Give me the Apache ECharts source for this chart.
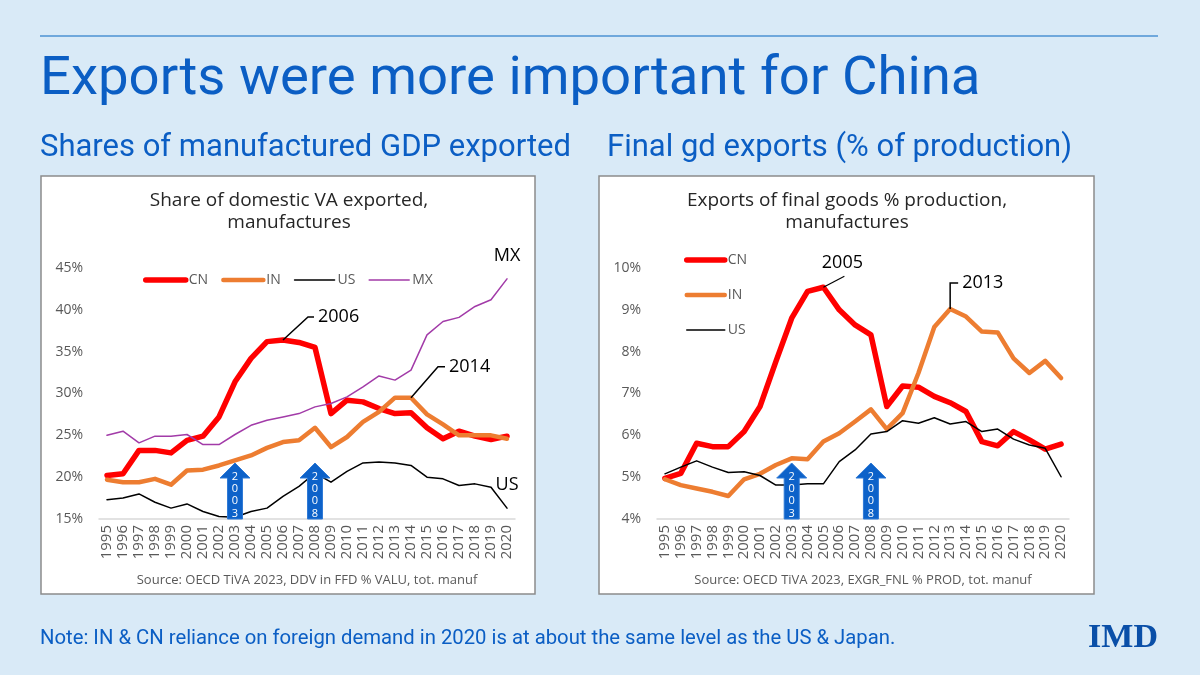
<!DOCTYPE html>
<html><head><meta charset="utf-8">
<script src="https://cdn.jsdelivr.net/npm/echarts@6/dist/echarts.min.js"></script>
<style>html,body{margin:0;padding:0;background:#d9eaf7;}#c{width:1200px;height:675px;}</style>
</head><body><div id="c"></div>
<script>
const years = ['1995','1996','1997','1998','1999','2000','2001','2002','2003','2004','2005','2006','2007','2008','2009','2010','2011','2012','2013','2014','2015','2016','2017','2018','2019','2020'];
// Left chart: share of domestic VA exported, manufactures (%)
const vaCN = [20.2,20.4,23.2,23.2,22.9,24.4,24.9,27.2,31.4,34.2,36.2,36.4,36.1,35.5,27.6,29.2,29.0,28.2,27.6,27.7,25.9,24.6,25.5,24.9,24.5,24.9];
const vaIN = [19.7,19.4,19.4,19.8,19.1,20.8,20.9,21.4,22.0,22.6,23.5,24.2,24.4,25.9,23.6,24.8,26.6,27.8,29.5,29.5,27.5,26.3,25.0,25.0,25.0,24.6];
const vaUS = [17.3,17.5,18.0,17.0,16.3,16.8,15.9,15.3,15.2,15.9,16.3,17.7,18.9,20.5,19.4,20.7,21.7,21.8,21.7,21.4,20.0,19.8,19.0,19.2,18.8,16.3];
const vaMX = [25.0,25.5,24.1,24.9,24.9,25.1,23.9,23.9,25.1,26.2,26.8,27.2,27.6,28.4,28.8,29.6,30.8,32.1,31.6,32.8,37.0,38.6,39.1,40.4,41.2,43.7];
// Right chart: exports of final goods % production, manufactures (%)
const fgCN = [4.97,5.09,5.81,5.73,5.73,6.09,6.69,7.76,8.80,9.44,9.54,9.00,8.64,8.40,6.69,7.18,7.15,6.93,6.78,6.57,5.85,5.75,6.09,5.89,5.67,5.79];
const fgIN = [4.95,4.81,4.73,4.65,4.55,4.95,5.08,5.29,5.45,5.43,5.85,6.05,6.33,6.62,6.15,6.53,7.49,8.59,9.02,8.84,8.48,8.46,7.84,7.49,7.78,7.37];
const fgUS = [5.08,5.24,5.39,5.24,5.11,5.13,5.04,4.81,4.81,4.84,4.84,5.37,5.65,6.03,6.09,6.35,6.29,6.42,6.27,6.33,6.09,6.15,5.91,5.77,5.69,5.01];
// Axis ranges
const leftAxis = {min: 15, max: 45, interval: 5};
const rightAxis = {min: 4, max: 10, interval: 1};
// Event arrows
const arrowYears = ['2003','2008'];
// Text
const mainTitle = 'Exports were more important for China';
const subLeft = 'Shares of manufactured GDP exported';
const subRight = 'Final gd exports (% of production)';
const chartTitleLeft = 'Share of domestic VA exported,\nmanufactures';
const chartTitleRight = 'Exports of final goods % production,\nmanufactures';
const sourceLeft = 'Source: OECD TiVA 2023, DDV in FFD % VALU, tot. manuf';
const sourceRight = 'Source: OECD TiVA 2023, EXGR_FNL % PROD, tot. manuf';
const noteText = 'Note: IN & CN reliance on foreign demand in 2020 is at about the same level as the US & Japan.';

const BLUE = '#0b5ec4';
const RED = '#ff0000', ORANGE = '#ed7d31', BLACK = '#000000', PURPLE = '#a23ba8';
const CF = '"Open Sans", "Noto Sans", sans-serif';
const SF = 'Roboto, "Noto Sans", sans-serif';
const widths = {CN:5.5, IN:4.5, US:1.5, MX:1.5};

const chart = echarts.init(document.getElementById('c'), null, {renderer: 'canvas'});

function xAx(gi){
  return {type:'category', gridIndex:gi, data:years, boundaryGap:true,
    axisLine:{show:true, lineStyle:{color:'#d9d9d9', width:1.5}}, axisTick:{show:false},
    axisLabel:{rotate:90, interval:0, fontSize:15, color:'#595959', fontFamily:CF, margin:6}};
}
function yAx(gi, r){
  return {type:'value', gridIndex:gi, min:r.min, max:r.max, interval:r.interval,
    axisLine:{show:false}, axisTick:{show:false}, splitLine:{show:false},
    axisLabel:{formatter:'{value}%', fontSize:14, color:'#595959', fontFamily:CF, margin:16}};
}
function line(name, data, color, gi){
  return {type:'line', name, data, xAxisIndex:gi, yAxisIndex:gi, symbol:'none', showSymbol:false,
    lineStyle:{color, width:widths[name], cap:'round', join:'round'}, itemStyle:{color}, silent:true, animation:false, z:2};
}
function arrows(gi, ymin){
  return {type:'custom', xAxisIndex:gi, yAxisIndex:gi, coordinateSystem:'cartesian2d', z:5, animation:false, silent:true, clip:false,
    data: arrowYears.map(y => [y, ymin]),
    renderItem: function(params, api){
      const p = api.coord([api.value(0), api.value(1)]);
      const x = p[0], b = p[1];
      const hw = 7.5, hh = 15, tot = 56, headW = 15;
      const pts = [[x-hw,b],[x-hw,b-tot+hh],[x-headW,b-tot+hh],[x,b-tot],[x+headW,b-tot+hh],[x+hw,b-tot+hh],[x+hw,b]];
      const label = arrowYears[params.dataIndex].split('').join('\n');
      return {type:'group', children:[
        {type:'polygon', shape:{points:pts}, style:{fill:'#0d62c9', stroke:'#2f7ad6', lineWidth:1}},
        {type:'text', x:x, y:b-48.5, style:{text:label, fill:'#ffffff', font:'11px '+CF, align:'center', verticalAlign:'top', lineHeight:12.3}}
      ]};
    }};
}

const staticGraphics = [
  {type:'line', shape:{x1:40,y1:36,x2:1158,y2:36}, style:{stroke:'#6fa8dc', lineWidth:2}, z:0},
  {type:'text', x:40, y:80, style:{text:mainTitle, fill:BLUE, font:'54.5px '+SF, verticalAlign:'middle'}},
  {type:'text', x:40, y:148, style:{text:subLeft, fill:BLUE, font:'31px '+SF, verticalAlign:'middle'}},
  {type:'text', x:607, y:148, style:{text:subRight, fill:BLUE, font:'31px '+SF, verticalAlign:'middle'}},
  {type:'rect', shape:{x:41,y:176,width:494,height:418}, style:{fill:'#ffffff', stroke:'#8c8c8c', lineWidth:1.5}, z:-10},
  {type:'rect', shape:{x:599,y:176,width:495,height:418}, style:{fill:'#ffffff', stroke:'#8c8c8c', lineWidth:1.5}, z:-10},
  {type:'text', x:289, y:212, style:{text:chartTitleLeft, fill:'#262626', font:'19px '+CF, align:'center', verticalAlign:'middle', lineHeight:22}},
  {type:'text', x:847, y:212, style:{text:chartTitleRight, fill:'#262626', font:'19px '+CF, align:'center', verticalAlign:'middle', lineHeight:22}},
  {type:'text', x:307, y:580, style:{text:sourceLeft, fill:'#595959', font:'13px '+CF, align:'center', verticalAlign:'middle'}},
  {type:'text', x:863, y:580, style:{text:sourceRight, fill:'#595959', font:'13px '+CF, align:'center', verticalAlign:'middle'}},
  {type:'text', x:40, y:639, style:{text:noteText, fill:BLUE, font:'20.3px '+SF, verticalAlign:'middle'}},
  {type:'text', x:1158, y:638, style:{text:'IMD', fill:'#0a4fa8', font:'bold 34px "Liberation Serif", "DejaVu Serif", serif', align:'right', verticalAlign:'middle'}}
];

function legendItems(names){ return names.map(n => ({name:n, lineStyle:{width:widths[n]}})); }
const legendBase = {itemHeight:14, selectedMode:false, itemStyle:{opacity:0, borderWidth:0},
  textStyle:{color:'#595959', fontSize:14, fontFamily:CF, padding:[0,0,0,-2]}};
const option = {
  backgroundColor:'#d9eaf7',
  animation:false,
  grid:[{left:99, top:268, width:416, height:251}, {left:657, top:268, width:412, height:251}],
  xAxis:[xAx(0), xAx(1)],
  yAxis:[yAx(0,leftAxis), yAx(1,rightAxis)],
  legend:[
    Object.assign({data:legendItems(['CN','IN','US','MX']), left:138, top:268, orient:'horizontal', itemWidth:40, itemGap:13}, legendBase),
    Object.assign({data:legendItems(['CN','IN','US']), left:679, top:248, orient:'vertical', itemWidth:38, itemGap:21}, legendBase)
  ],
  series:[
    line('CN', vaCN, RED, 0), line('IN', vaIN, ORANGE, 0), line('US', vaUS, BLACK, 0), line('MX', vaMX, PURPLE, 0),
    line('CN', fgCN, RED, 1), line('IN', fgIN, ORANGE, 1), line('US', fgUS, BLACK, 1),
    arrows(0, leftAxis.min), arrows(1, rightAxis.min)
  ],
  graphic: staticGraphics
};
chart.setOption(option);

// Annotations anchored to data points via the chart's own scales
function px(gi, year, val){ return chart.convertToPixel({xAxisIndex:gi, yAxisIndex:gi}, [year, val]); }
const notes = [];
function elbow(gi, year, val, dx, dy, hlen, text){
  const p = px(gi, year, val);
  const q = [p[0]+dx, p[1]+dy];
  notes.push({type:'polyline', shape:{points:[p, q, [q[0]+hlen, q[1]]]}, style:{stroke:'#000', lineWidth:1.5, fill:null}, z:10});
  notes.push({type:'text', x:q[0]+hlen+4, y:q[1], style:{text, fill:'#000', font:'18px '+CF, verticalAlign:'middle'}, z:10});
}
elbow(0, '2006', vaCN[years.indexOf('2006')], 25, -23, 6, '2006');
elbow(0, '2014', vaIN[years.indexOf('2014')], 27, -31, 7, '2014');
elbow(1, '2013', fgIN[years.indexOf('2013')], 0, -26, 8, '2013');
(function(){
  const p = px(1, '2005', fgCN[years.indexOf('2005')]);
  notes.push({type:'line', shape:{x1:p[0], y1:p[1], x2:p[0]+21, y2:p[1]-11}, style:{stroke:'#000', lineWidth:1.2}, z:10});
  notes.push({type:'text', x:p[0]+19, y:p[1]-24, style:{text:'2005', fill:'#000', font:'18px '+CF, align:'center', verticalAlign:'middle'}, z:10});
})();
(function(){
  const last = years.length-1;
  const pm = px(0, years[last], vaMX[last]);
  notes.push({type:'text', x:pm[0], y:pm[1]-23, style:{text:'MX', fill:'#000', font:'18px '+CF, align:'center', verticalAlign:'middle'}, z:10});
  const pu = px(0, years[last], vaUS[last]);
  notes.push({type:'text', x:pu[0], y:pu[1]-23, style:{text:'US', fill:'#000', font:'18px '+CF, align:'center', verticalAlign:'middle'}, z:10});
})();
chart.setOption({graphic: staticGraphics.concat(notes)}, {replaceMerge:['graphic']});
</script></body></html>
